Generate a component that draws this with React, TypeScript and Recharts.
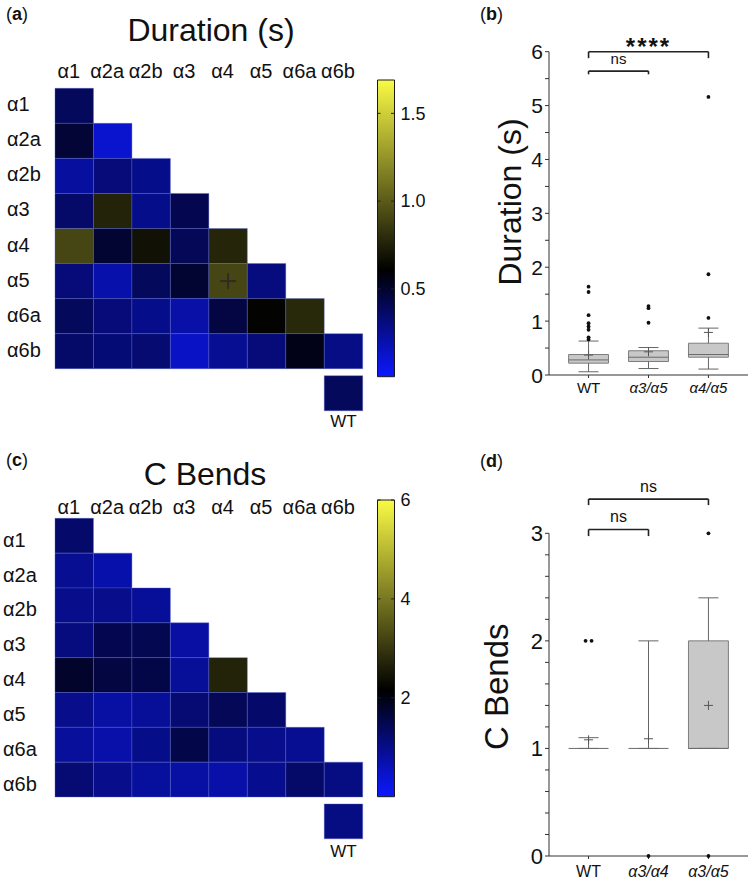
import React from 'react';
import {
  ScatterChart,
  Scatter,
  XAxis,
  YAxis,
  ReferenceArea,
  ReferenceLine,
  ReferenceDot,
  BarChart,
  Bar,
} from 'recharts';

const FONT = '"Liberation Sans", Arial, Helvetica, sans-serif';
const INK = '#111';

// ---------------- heatmap data ----------------
const SUBUNITS = ['α1', 'α2a', 'α2b', 'α3', 'α4', 'α5', 'α6a', 'α6b'];
const WT_NAME = 'WT';

const DURATION_ROWS = [
  [0.39],
  [0.48, 0.12],
  [0.23, 0.32, 0.28],
  [0.36, 0.76, 0.28, 0.42],
  [0.91, 0.49, 0.68, 0.4, 0.77],
  [0.32, 0.2, 0.39, 0.49, 0.91, 0.31],
  [0.39, 0.32, 0.28, 0.21, 0.45, 0.62, 0.78],
  [0.36, 0.33, 0.34, 0.14, 0.26, 0.32, 0.55, 0.29],
];
const DURATION_WT = 0.39;
const DURATION_MAX = 1.69;
const DURATION_CB_TICKS = [0.5, 1.0, 1.5];
const DURATION_MARKED = [{ row: 5, col: 4 }];

const CBEND_ROWS = [
  [1.26],
  [0.92, 0.71],
  [0.98, 0.98, 0.87],
  [1.1, 1.49, 1.48, 0.79],
  [1.8, 1.61, 1.56, 0.87, 2.7],
  [0.98, 0.78, 0.87, 1.19, 1.43, 1.26],
  [0.85, 0.73, 1.0, 1.54, 1.1, 0.98, 0.92],
  [1.19, 0.98, 0.83, 0.78, 0.73, 0.95, 1.28, 1.07],
];
const CBEND_WT = 1.07;
const CBEND_MAX = 6;
const CBEND_CB_TICKS = [2, 4, 6];
const CBEND_MARKED: { row: number; col: number }[] = [];

// ---------------- box plot data ----------------
const DUR_GROUPS = ['WT', 'α3/α5', 'α4/α5'];
const DUR_MIN = [0.06, 0.12, 0.11];
const DUR_Q1 = [0.22, 0.25, 0.33];
const DUR_MEDIAN = [0.28, 0.33, 0.38];
const DUR_Q3 = [0.38, 0.45, 0.59];
const DUR_MAX = [0.63, 0.51, 0.87];
const DUR_MEAN = [0.37, 0.43, 0.79];
const DUR_OUTLIERS = [
  [1.64, 1.54, 1.11, 0.96, 0.9, 0.84, 0.7, 0.66],
  [1.28, 1.24, 0.97],
  [5.16, 1.87, 1.06],
];
const DUR_Y_TICKS = [0, 0.5, 1, 1.5, 2, 2.5, 3, 3.5, 4, 4.5, 5, 5.5, 6];
const DUR_SIG = [
  { from: 0, to: 1, y: 5.64, drop: 0.06, label: 'ns' },
  { from: 0, to: 2, y: 6.0, drop: 0.12, label: '****' },
];

const CB_GROUPS = ['WT', 'α3/α4', 'α3/α5'];
const CB_MIN = [1, 1, 1];
const CB_Q1 = [1, 1, 1];
const CB_MEDIAN = [1, 1, 1];
const CB_Q3 = [1, 1, 2];
const CB_MAX = [1.1, 2, 2.4];
const CB_MEAN = [1.08, 1.09, 1.4];
const CB_OUTLIERS = [[2, 2], [0], [3, 0]];
const CB_Y_TICKS = [0, 0.2, 0.4, 0.6, 0.8, 1, 1.2, 1.4, 1.6, 1.8, 2, 2.2, 2.4, 2.6, 2.8, 3];
const CB_SIG = [
  { from: 0, to: 1, y: 3.036, drop: 0.062, label: 'ns' },
  { from: 0, to: 2, y: 3.318, drop: 0.056, label: 'ns' },
];

// ---------------- colormap ----------------
const CMAP_BLUE = [12, 24, 255];
const CMAP_BLACK = [0, 0, 0];
const CMAP_YELLOW = [250, 250, 70];
const CMAP_BLACK_AT = 0.36;

function cmap(f: number) {
  const t = Math.max(0, Math.min(1, f));
  let a: number[], b: number[], u: number;
  if (t <= CMAP_BLACK_AT) {
    a = CMAP_BLUE; b = CMAP_BLACK; u = t / CMAP_BLACK_AT;
  } else {
    a = CMAP_BLACK; b = CMAP_YELLOW; u = (t - CMAP_BLACK_AT) / (1 - CMAP_BLACK_AT);
  }
  const c = a.map((v, k) => Math.round(v + (b[k] - v) * u));
  return `rgb(${c[0]},${c[1]},${c[2]})`;
}
const rgb = (c: number[]) => `rgb(${c[0]},${c[1]},${c[2]})`;

// ---------------- heatmap ----------------
const GRID_LEFT = 55;
const GRID_RIGHT = 362.7;
const HEAT_W = 380;
const WT_GAP = 0.2;

type HeatProps = {
  top: number; height: number; gridTop: number; gridBottom: number;
  rows: number[][]; wt: number; vmax: number; marks: { row: number; col: number }[];
  title: string; titleX: number; titleBaseline: number; colBaseline: number;
  rowLabelX: number; rowLabelDy: number; wtOffset: number;
};

function Heatmap(p: HeatProps) {
  const cells: { x: number; y: number; v: number; mark: boolean }[] = [];
  p.rows.forEach((r, i) =>
    r.forEach((v, j) =>
      cells.push({ x: j, y: i, v, mark: p.marks.some((m) => m.row === i && m.col === j) })
    )
  );
  const idx = SUBUNITS.map((_, i) => i);
  const wtRow = SUBUNITS.length + WT_GAP;
  const wtCol = SUBUNITS.length - 1;
  const cellStroke = 'rgba(85,100,205,0.55)';
  return (
    <div style={{ position: 'absolute', left: 0, top: p.top }}>
      <ScatterChart
        width={HEAT_W}
        height={p.height}
        margin={{ top: p.gridTop - 30, right: HEAT_W - GRID_RIGHT, bottom: p.height - p.gridBottom, left: 0 }}
      >
        <XAxis
          type="number"
          dataKey="x"
          orientation="top"
          domain={[-0.5, SUBUNITS.length - 0.5]}
          ticks={idx}
          height={30}
          axisLine={false}
          tickLine={false}
          tickSize={0}
          tickMargin={0}
          interval={0}
          tick={(t: any) => (
            <text x={t.x - 5.5} y={p.colBaseline} textAnchor="middle" fontSize={20} fontFamily={FONT} fill={INK}>
              {SUBUNITS[t.payload.value]}
            </text>
          )}
          label={{
            content: () => (
              <text x={p.titleX} y={p.titleBaseline} textAnchor="middle" fontSize={32} fontFamily={FONT} fill={INK}>
                {p.title}
              </text>
            ),
          }}
        />
        <YAxis
          type="number"
          dataKey="y"
          reversed
          domain={[-0.5, SUBUNITS.length - 0.5]}
          ticks={idx}
          width={GRID_LEFT}
          axisLine={false}
          tickLine={false}
          tickSize={0}
          tickMargin={0}
          interval={0}
          tick={(t: any) => (
            <text x={p.rowLabelX} y={t.y + p.rowLabelDy} textAnchor="start" fontSize={20} fontFamily={FONT} fill={INK}>
              {SUBUNITS[t.payload.value]}
            </text>
          )}
        />
        {cells.map((c) => (
          <ReferenceArea
            key={`c-${c.x}-${c.y}`}
            x1={c.x - 0.5}
            x2={c.x + 0.5}
            y1={c.y - 0.5}
            y2={c.y + 0.5}
            fill={cmap(c.v / p.vmax)}
            fillOpacity={1}
            stroke={cellStroke}
            strokeWidth={0.7}
            ifOverflow="visible"
          />
        ))}
        <ReferenceArea
          x1={wtCol - 0.5}
          x2={wtCol + 0.5}
          y1={wtRow - 0.5}
          y2={wtRow + 0.5}
          fill={cmap(p.wt / p.vmax)}
          fillOpacity={1}
          stroke={cellStroke}
          strokeWidth={0.7}
          ifOverflow="visible"
          label={{ value: WT_NAME, position: 'bottom', offset: p.wtOffset, fill: INK, fontSize: 17, fontFamily: FONT }}
        />
        <Scatter
          data={cells}
          isAnimationActive={false}
          shape={(s: any) =>
            s.payload && s.payload.mark ? (
              <g stroke="#2d2d24" strokeWidth={2}>
                <line x1={s.cx - 8} x2={s.cx + 8} y1={s.cy} y2={s.cy} />
                <line x1={s.cx} x2={s.cx} y1={s.cy - 8} y2={s.cy + 8} />
              </g>
            ) : (
              <g />
            )
          }
        />
      </ScatterChart>
    </div>
  );
}

// ---------------- colorbar ----------------
function ColorBar({ top, vmax, ticks, fmt, id }: { top: number; vmax: number; ticks: number[]; fmt: (v: number) => string; id: string }) {
  const W = 60, H = 400;
  const barW = 16.5;
  return (
    <div style={{ position: 'absolute', left: 377, top }}>
      <BarChart width={W} height={H} data={[{ name: 'cb', v: vmax }]} margin={{ top: 80, right: 0, bottom: 23.3, left: 0.5 }} barCategoryGap={0}>
        <defs>
          <linearGradient id={id} x1="0" y1="0" x2="0" y2="1">
            <stop offset="0%" stopColor={rgb(CMAP_YELLOW)} />
            <stop offset={`${(1 - CMAP_BLACK_AT) * 100}%`} stopColor={rgb(CMAP_BLACK)} />
            <stop offset="100%" stopColor={rgb(CMAP_BLUE)} />
          </linearGradient>
        </defs>
        <XAxis dataKey="name" hide />
        <YAxis
          orientation="right"
          type="number"
          domain={[0, vmax]}
          ticks={ticks}
          width={W - 0.5 - barW}
          axisLine={false}
          tickLine={false}
          tickSize={0}
          tickMargin={0}
          interval={0}
          tick={(t: any) => (
            <g>
              <line x1={t.x - 3} x2={t.x} y1={t.y} y2={t.y} stroke="#222" strokeWidth={1} />
              <line x1={t.x - barW} x2={t.x - barW + 3} y1={t.y} y2={t.y} stroke="#222" strokeWidth={1} />
              <text x={t.x + 6.5} y={t.y} dy="0.35em" textAnchor="start" fontSize={18} fontFamily={FONT} fill={INK}>
                {fmt(t.payload.value)}
              </text>
            </g>
          )}
        />
        <Bar dataKey="v" fill={`url(#${id})`} stroke="#1a1a1a" strokeWidth={1} isAnimationActive={false} />
      </BarChart>
    </div>
  );
}

// ---------------- box plots ----------------
const BOX_HALF = 0.333;
const CAP_HALF = 0.167;
const X_DOMAIN = [0.34, 3.66];
const BOX_W = 372;
const BOX_LEFT_AXIS = 169;

type BoxProps = {
  top: number; height: number; marginTop: number; xAxisHeight: number;
  groups: string[]; mins: number[]; q1s: number[]; meds: number[]; q3s: number[]; maxs: number[]; means: number[];
  outliers: number[][]; sigs: { from: number; to: number; y: number; drop: number; label: string }[];
  yMax: number; yTicks: number[]; yTickFont: number; xTickFont: number; xTickMargin: number;
  yLabel: string; yLabelX: number; yLabelY: number; yLabelFont: number; nsFont: number;
};

function BoxPanel(p: BoxProps) {
  const meanPts = p.means.map((m, i) => ({ x: i + 1, y: m }));
  const outPts: { x: number; y: number; k: number }[] = [];
  p.outliers.forEach((arr, i) => {
    const seen: Record<string, number> = {};
    arr.forEach((v) => {
      const n = arr.filter((w) => w === v).length;
      seen[v] = (seen[v] ?? -1) + 1;
      outPts.push({ x: i + 1, y: v, k: seen[v] - (n - 1) / 2 });
    });
  });
  const whisk = '#666';
  const els: React.ReactNode[] = [];
  p.groups.forEach((g, i) => {
    const c = i + 1;
    els.push(
      <ReferenceLine key={`wl-${i}`} segment={[{ x: c, y: p.q1s[i] }, { x: c, y: p.mins[i] }]} stroke={whisk} strokeWidth={1} ifOverflow="visible" />,
      <ReferenceLine key={`wh-${i}`} segment={[{ x: c, y: p.q3s[i] }, { x: c, y: p.maxs[i] }]} stroke={whisk} strokeWidth={1} ifOverflow="visible" />,
      <ReferenceLine key={`cl-${i}`} segment={[{ x: c - CAP_HALF, y: p.mins[i] }, { x: c + CAP_HALF, y: p.mins[i] }]} stroke={whisk} strokeWidth={1} ifOverflow="visible" />,
      <ReferenceLine key={`ch-${i}`} segment={[{ x: c - CAP_HALF, y: p.maxs[i] }, { x: c + CAP_HALF, y: p.maxs[i] }]} stroke={whisk} strokeWidth={1} ifOverflow="visible" />,
      <ReferenceArea key={`b-${i}`} x1={c - BOX_HALF} x2={c + BOX_HALF} y1={p.q1s[i]} y2={p.q3s[i]} fill="#c8c8c8" fillOpacity={1} stroke="#7d7d7d" strokeWidth={1} ifOverflow="visible" />,
      <ReferenceLine key={`m-${i}`} segment={[{ x: c - BOX_HALF, y: p.meds[i] }, { x: c + BOX_HALF, y: p.meds[i] }]} stroke="#6a6a6a" strokeWidth={1} ifOverflow="visible" />
    );
  });
  p.sigs.forEach((s, i) => {
    const a = s.from + 1, b = s.to + 1;
    const stars = s.label.includes('*');
    els.push(
      <ReferenceLine key={`sh-${i}`} segment={[{ x: a, y: s.y }, { x: b, y: s.y }]} stroke="#222" strokeWidth={1.6} ifOverflow="visible" />,
      <ReferenceLine key={`sa-${i}`} segment={[{ x: a, y: s.y }, { x: a, y: s.y - s.drop }]} stroke="#222" strokeWidth={1.6} ifOverflow="visible" />,
      <ReferenceLine key={`sb-${i}`} segment={[{ x: b, y: s.y }, { x: b, y: s.y - s.drop }]} stroke="#222" strokeWidth={1.6} ifOverflow="visible" />,
      <ReferenceDot
        key={`st-${i}`}
        x={(a + b) / 2}
        y={s.y}
        r={0}
        ifOverflow="visible"
        shape={(d: any) => (
          <text
            x={d.cx}
            y={stars ? d.cy + 3 : d.cy - 7}
            textAnchor="middle"
            fontSize={stars ? 24 : p.nsFont}
            fontWeight={stars ? 'bold' : 'normal'}
            letterSpacing={stars ? 2 : 0}
            fontFamily={FONT}
            fill={INK}
          >
            {s.label}
          </text>
        )}
      />
    );
  });

  return (
    <div style={{ position: 'absolute', left: 380, top: p.top }}>
      <ScatterChart
        width={BOX_W}
        height={p.height}
        margin={{ top: p.marginTop, right: 4, bottom: 0, left: 0 }}
      >
        <XAxis
          type="number"
          dataKey="x"
          domain={X_DOMAIN}
          ticks={[1, 2, 3]}
          height={p.xAxisHeight}
          stroke="#333"
          tickSize={3}
          tickMargin={p.xTickMargin}
          interval={0}
          tick={(t: any) => {
            const name = p.groups[t.payload.value - 1];
            return (
              <text x={t.x} y={t.y} dy="0.71em" textAnchor="middle" fontSize={p.xTickFont} fontFamily={FONT} fontStyle={name === 'WT' ? 'normal' : 'italic'} fill={INK}>
                {name}
              </text>
            );
          }}
        />
        <YAxis
          type="number"
          dataKey="y"
          domain={[0, p.yMax]}
          ticks={p.yTicks}
          width={BOX_LEFT_AXIS}
          stroke="#333"
          tickSize={4}
          tickMargin={2}
          interval={0}
          tick={(t: any) =>
            Number.isInteger(t.payload.value) ? (
              <text x={t.x} y={t.y} dy="0.36em" textAnchor="end" fontSize={p.yTickFont} fontFamily={FONT} fill={INK}>
                {t.payload.value}
              </text>
            ) : (
              <g />
            )
          }
          label={{
            content: () => (
              <text
                x={p.yLabelX}
                y={p.yLabelY}
                transform={`rotate(-90, ${p.yLabelX}, ${p.yLabelY})`}
                textAnchor="middle"
                fontSize={p.yLabelFont}
                fontFamily={FONT}
                fill={INK}
              >
                {p.yLabel}
              </text>
            ),
          }}
        />
        {els}
        <Scatter
          data={meanPts}
          isAnimationActive={false}
          shape={(s: any) => (
            <g stroke="#555" strokeWidth={1}>
              <line x1={s.cx - 4.5} x2={s.cx + 4.5} y1={s.cy} y2={s.cy} />
              <line x1={s.cx} x2={s.cx} y1={s.cy - 4.5} y2={s.cy + 4.5} />
            </g>
          )}
        />
        <Scatter
          data={outPts}
          isAnimationActive={false}
          shape={(s: any) => <circle cx={s.cx + (s.payload?.k ?? 0) * 6} cy={s.cy} r={1.9} fill="#111" />}
        />
      </ScatterChart>
    </div>
  );
}

function PanelLetter({ x, y, letter }: { x: number; y: number; letter: string }) {
  return (
    <text x={x} y={y} fontSize={18} fontFamily={FONT} fill={INK}>
      (<tspan fontWeight="bold">{letter}</tspan>)
    </text>
  );
}

export default function App() {
  return (
    <div style={{ position: 'absolute', left: 0, top: 0, width: 752, height: 881, background: '#fff', overflow: 'hidden' }}>
      <Heatmap
        top={0}
        height={440}
        gridTop={88.3}
        gridBottom={368.7}
        rows={DURATION_ROWS}
        wt={DURATION_WT}
        vmax={DURATION_MAX}
        marks={DURATION_MARKED}
        title="Duration (s)"
        titleX={211}
        titleBaseline={41}
        colBaseline={78}
        rowLabelX={7}
        rowLabelDy={5.5}
        wtOffset={4}
      />
      <ColorBar top={0} vmax={DURATION_MAX} ticks={DURATION_CB_TICKS} fmt={(v) => v.toFixed(1)} id="cbA" />
      <Heatmap
        top={420}
        height={461}
        gridTop={98.3}
        gridBottom={377}
        rows={CBEND_ROWS}
        wt={CBEND_WT}
        vmax={CBEND_MAX}
        marks={CBEND_MARKED}
        title="C Bends"
        titleX={205}
        titleBaseline={65}
        colBaseline={94}
        rowLabelX={3}
        rowLabelDy={11}
        wtOffset={6}
      />
      <ColorBar top={420} vmax={CBEND_MAX} ticks={CBEND_CB_TICKS} fmt={(v) => String(v)} id="cbC" />
      <BoxPanel
        top={0}
        height={420}
        marginTop={51.7}
        xAxisHeight={45}
        groups={DUR_GROUPS}
        mins={DUR_MIN}
        q1s={DUR_Q1}
        meds={DUR_MEDIAN}
        q3s={DUR_Q3}
        maxs={DUR_MAX}
        means={DUR_MEAN}
        outliers={DUR_OUTLIERS}
        sigs={DUR_SIG}
        yMax={6}
        yTicks={DUR_Y_TICKS}
        yTickFont={21}
        xTickFont={15}
        xTickMargin={4.3}
        yLabel="Duration (s)"
        yLabelX={141}
        yLabelY={202}
        yLabelFont={32}
        nsFont={15}
      />
      <BoxPanel
        top={420}
        height={461}
        marginTop={113.3}
        xAxisHeight={25}
        groups={CB_GROUPS}
        mins={CB_MIN}
        q1s={CB_Q1}
        meds={CB_MEDIAN}
        q3s={CB_Q3}
        maxs={CB_MAX}
        means={CB_MEAN}
        outliers={CB_OUTLIERS}
        sigs={CB_SIG}
        yMax={3}
        yTicks={CB_Y_TICKS}
        yTickFont={22}
        xTickFont={16}
        xTickMargin={6.6}
        yLabel="C Bends"
        yLabelX={128.3}
        yLabelY={266.7}
        yLabelFont={33}
        nsFont={16}
      />
      <svg width={752} height={881} style={{ position: 'absolute', left: 0, top: 0, pointerEvents: 'none' }}>
        <PanelLetter x={6} y={20} letter="a" />
        <PanelLetter x={480} y={20} letter="b" />
        <PanelLetter x={6} y={466} letter="c" />
        <PanelLetter x={480} y={467} letter="d" />
      </svg>
    </div>
  );
}
